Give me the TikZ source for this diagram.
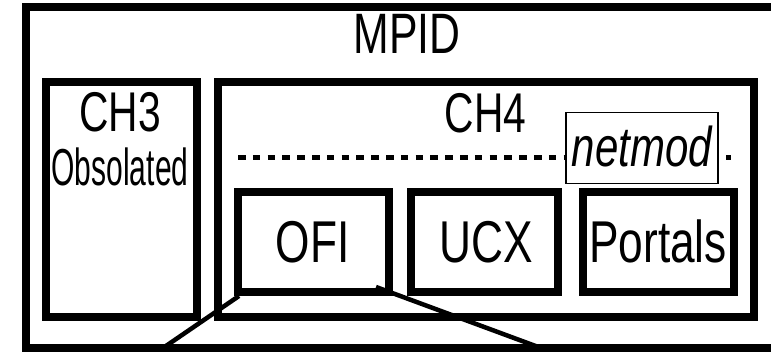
\documentclass[tikz,border=0pt]{standalone}
\usepackage{fontspec}
\setmainfont{Liberation Sans}[FakeStretch=0.75]
\newcommand\fsz[1]{\fontsize{#1pt}{#1pt}\selectfont}
\begin{document}
\begin{tikzpicture}[x=1pt,y=-1pt,
  box/.style={draw=black,line width=8pt,rectangle,inner sep=0pt,outer sep=0pt},
  thinbox/.style={draw=black,line width=1.6pt,fill=white,rectangle,inner sep=0pt,outer sep=0pt},
  lbl/.style={anchor=base,inner sep=0pt},
  zoomline/.style={line width=4.5pt,black},
  sepline/.style={line width=5.5pt,dash pattern=on 7.5pt off 7.3pt}]
\useasboundingbox (0,0) rectangle (771,352);
\clip (0,0) rectangle (771,352);
\fill[white] (0,0) rectangle (771,352);
% outer box
\node[box,minimum width=764pt,minimum height=341pt] (mpid) at (408,177.5) {};
\node[lbl,font=\fsz{57}] (mpidt) at (407,54) {MPID};
% CH3
\node[box,minimum width=151pt,minimum height=235.5pt] (ch3) at (121,199.75) {};
\node[lbl,font=\fsz{56}] (ch3t) at (120,131.7) {\scalebox{0.97}[1]{CH3}};
\node[lbl,font=\fsz{52}] (obs) at (120,186) {\scalebox{0.77}[1]{Obsolated}};
% CH4
\node[box,minimum width=536.5pt,minimum height=235.5pt] (ch4) at (485.75,199.75) {};
\node[lbl,font=\fsz{56}] (ch4t) at (485.5,133) {\scalebox{0.97}[1]{CH4}};
% dashed separator
\coordinate (d1) at (238,157.5);
\coordinate (d2) at (731,157.5);
\draw[sepline] (d1) -- (d2);
% netmod
\node[thinbox,minimum width=152pt,minimum height=71pt] (nm) at (642,148) {};
\node[lbl,font=\fsz{56}\itshape] (nmt) at (642,167) {netmod};
% netmods
\node[box,minimum width=151pt,minimum height=100pt] (ofi) at (313,242.5) {};
\node[lbl,font=\fsz{59}] (ofit) at (312.5,263) {OFI};
\node[box,minimum width=146.5pt,minimum height=100pt] (ucx) at (484.25,242.5) {};
\node[lbl,font=\fsz{59}] (ucxt) at (486,263) {UCX};
\node[box,minimum width=151pt,minimum height=100pt] (portals) at (658.5,242.5) {};
\node[lbl,font=\fsz{59}] (portt) at (658,262.5) {Portals};
% zoom lines
\coordinate (z1) at (239,296);
\coordinate (z2) at (376,287);
\coordinate (e1) at (163,348);
\coordinate (e2) at (541,348);
\draw[zoomline] (z1) -- (e1);
\draw[zoomline] (z2) -- (e2);
\end{tikzpicture}
\end{document}
